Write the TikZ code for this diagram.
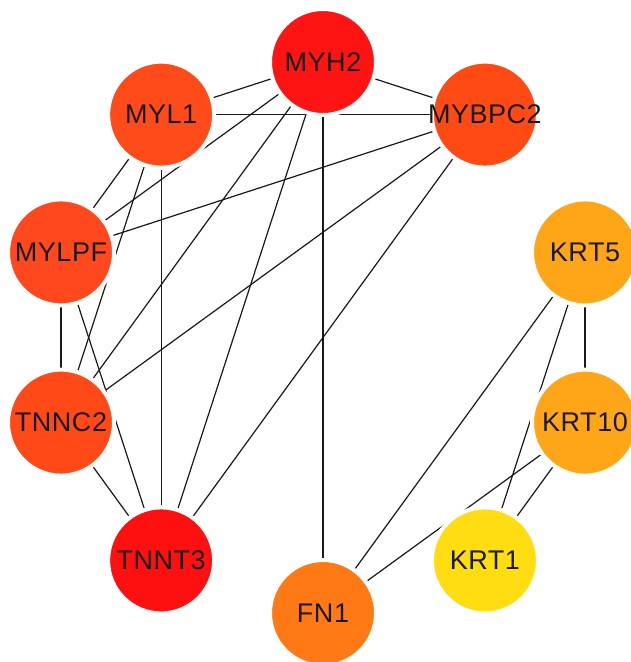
\documentclass[tikz,border=0pt]{standalone}
\usepackage{fontspec}
\setmainfont{Liberation Sans}
\newfontfamily\labelfont[LetterSpace=2]{Liberation Sans}
\usetikzlibrary{backgrounds}
\definecolor{cMYH}{RGB}{255,20,20}
\definecolor{cTNNT}{RGB}{255,16,16}
\definecolor{cMYL}{RGB}{255,74,26}
\definecolor{cMYB}{RGB}{255,74,20}
\definecolor{cMYLPF}{RGB}{255,72,30}
\definecolor{cTNNC}{RGB}{255,74,24}
\definecolor{cFN}{RGB}{255,122,20}
\definecolor{cKRTa}{RGB}{255,166,24}
\definecolor{cKRTb}{RGB}{255,221,16}
\definecolor{edgecol}{RGB}{25,25,25}
\newcommand{\glab}[1]{\makebox[0pt][c]{#1}}
\tikzset{
  gene/.style={circle, minimum size=106pt, inner sep=0pt, draw=white, line width=4pt,
    font=\labelfont\fontsize{27}{32}\selectfont, text=black!90},
  link/.style={draw=edgecol, line width=1.2pt}
}
\begin{document}
\begin{tikzpicture}[x=1pt,y=-1pt]
\useasboundingbox (0,0) rectangle (631,662);
\clip (0,0) rectangle (631,662);
\node[gene, fill=cMYH]   (MYH2)   at (323,62)      {\glab{MYH2}};
\node[gene, fill=cMYL]   (MYL1)   at (161.1,114.6) {\glab{MYL1}};
\node[gene, fill=cMYLPF] (MYLPF)  at (61,252.4)    {\glab{MYLPF}};
\node[gene, fill=cTNNC]  (TNNC2)  at (61,422.6)    {\glab{TNNC2}};
\node[gene, fill=cTNNT]  (TNNT3)  at (161.1,560.4) {\glab{TNNT3}};
\node[gene, fill=cFN]    (FN1)    at (323,613)     {\glab{FN1}};
\node[gene, fill=cKRTb]  (KRT1)   at (484.9,560.4) {\glab{KRT1}};
\node[gene, fill=cKRTa]  (KRT10)  at (585,422.6)   {\glab{KRT10}};
\node[gene, fill=cKRTa]  (KRT5)   at (585,252.4)   {\glab{KRT5}};
\node[gene, fill=cMYB]   (MYBPC2) at (484.9,114.6) {\glab{MYBPC2}};
\begin{pgfonlayer}{background}
\fill[white] (0,0) rectangle (631,662);
\draw[link] (MYH2) -- (MYL1);
\draw[link] (MYH2) -- (MYBPC2);
\draw[link] (MYH2) -- (FN1);
\draw[link] (MYH2) -- (MYLPF);
\draw[link] (MYH2) -- (TNNC2);
\draw[link] (MYH2) -- (TNNT3);
\draw[link] (MYL1.center) -- (MYBPC2.center);
\draw[link] (MYL1) -- (MYLPF);
\draw[link] (MYL1) -- (TNNC2);
\draw[link] (MYL1) -- (TNNT3);
\draw[link] (MYBPC2) -- (MYLPF);
\draw[link] (MYBPC2) -- (TNNC2);
\draw[link] (MYBPC2) -- (TNNT3);
\draw[link] (MYLPF) -- (TNNC2);
\draw[link] (MYLPF) -- (TNNT3);
\draw[link] (TNNC2) -- (TNNT3);
\draw[link] (FN1) -- (KRT5);
\draw[link] (FN1) -- (KRT10);
\draw[link] (KRT5) -- (KRT10);
\draw[link] (KRT5) -- (KRT1);
\draw[link] (KRT10) -- (KRT1);
\end{pgfonlayer}
\end{tikzpicture}
\end{document}
